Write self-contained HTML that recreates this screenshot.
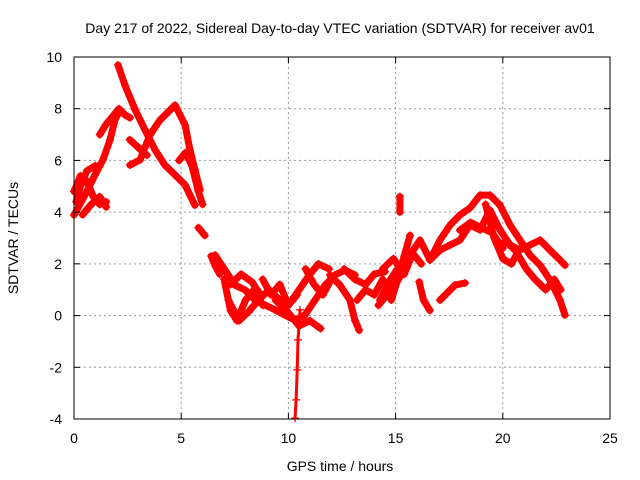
<!DOCTYPE html>
<html><head><meta charset="utf-8"><style>
body{margin:0;background:#fff}
svg{display:block;font-family:"Liberation Sans",sans-serif}
</style></head><body>
<svg id="c" width="640" height="480">
<text x="340" y="33" font-size="14" text-anchor="middle">Day 217 of 2022, Sidereal Day-to-day VTEC variation (SDTVAR) for receiver av01</text>
<text x="340" y="471" font-size="14" text-anchor="middle">GPS time / hours</text>
<text transform="translate(18,238) rotate(-90)" font-size="14" text-anchor="middle">SDTVAR / TECUs</text>
<g id="grid"></g><g id="marks"></g>
<rect x="74" y="57" width="536" height="362" fill="none" stroke="#000" stroke-width="1"/>
<g id="ticks"></g>
</svg>
<script>
const xTicks=[0,5,10,15,20,25];
const yTicks=[-4,-2,0,2,4,6,8,10];
const s1h=[0,0.51,0.98,1.35,1.68,1.91,2.15,2.38,2.61];
const s1v=[3.89,4.66,5.44,6.02,6.79,7.57,7.95,7.76,7.65];
const s2h=[2.05,2.38,2.85,3.31,3.78,4.24,4.71,5.18,5.41,5.64];
const s2v=[9.69,8.9,7.96,7.18,6.41,5.82,5.44,5.05,4.66,4.27];
const s3h=[2.61,3.08,3.54,4.01,4.71,5.18,5.41,5.64,5.88];
const s3v=[5.82,6.02,6.98,7.56,8.14,7.37,6.4,5.63,4.86];
const s4h=[0,0.3,0.6,0.9,1.2,1.5];
const s4v=[4.8,5.4,5.2,4.6,4.3,4.4];
const s5h=[0.4,0.8,1.2,1.5];
const s5v=[3.9,4.3,4.6,4.2];
const s6h=[4.9,5.2,5.5,5.8,6.0];
const s6v=[6.0,6.3,5.8,4.8,4.3];
const s7h=[2.6,3.0,3.4];
const s7v=[6.8,6.5,6.2];
const s8h=[5.8,6.1];const s8v=[3.4,3.1];
const s9h=[6.4,6.6,6.8];const s9v=[2.3,1.9,1.6];
const s10h=[0.1,0.3,0.6,1.0];const s10v=[4.4,5.0,5.6,5.8];
const s11h=[1.2,1.5,1.8,2.1];const s11v=[7.0,7.4,7.7,8.0];
const m1h=[6.58,7.04,7.51,7.98,8.44,8.91,9.38,9.84,10.31,10.77,11.24,11.71,12.17,12.64,13.1];
const m1v=[2.34,1.76,1.18,0.99,0.6,0.41,0.22,0.02,-0.18,0.02,0.6,1.18,1.57,1.76,1.57];
const m2h=[7.2,7.7,8.2,8.6,9.1,9.6,10.0,10.5,11.0,11.4,11.9];
const m2v=[0.6,-0.2,0.2,0.6,1.0,0.6,0.4,1.0,1.6,2.0,1.8];
const m3h=[10.54,10.45,10.41,10.36,10.31];
const m3v=[0.22,-0.94,-2.1,-3.26,-3.97];
const m4h=[9.4,9.9,10.5,11.0,11.5];
const m4v=[0.6,0.2,-0.4,-0.2,-0.5];
const m5h=[11.94,12.4,12.87,13.1,13.3];
const m5v=[1.57,1.18,0.6,-0.18,-0.57];
const m6h=[7.3,7.8,8.3,8.7];const m6v=[1.2,1.6,1.3,0.8];
const m7h=[12.6,13.1,13.6,14.0,14.5];const m7v=[1.8,1.4,1.2,1.6,1.7];
const m8h=[7.0,7.3,7.6,8.0,8.4,8.8];const m8v=[1.4,0.2,-0.2,0.6,1.0,0.4];
const m9h=[8.8,9.2,9.6,10.0,10.4];const m9v=[1.4,0.8,1.2,0.4,0.8];
const m10h=[10.8,11.2,11.6,12.0];const m10v=[1.8,1.2,0.8,1.4];
const m11h=[13.2,13.6,14.0,14.4];const m11v=[0.6,1.0,0.8,1.4];
const m12h=[14.2,14.6,15.0,15.4,15.8,16.2];const m12v=[0.4,0.8,1.2,1.8,2.4,2.0];
const r1h=[14.27,14.74,15.21,15.67,16.14,16.6,17.07,17.54,18.0,18.47,18.94,19.4,19.87,20.34,20.8,21.27,21.74,22.2,22.67,22.9];
const r1v=[0.6,1.37,1.95,2.34,2.92,2.15,2.92,3.5,3.89,4.16,4.66,4.66,4.27,3.5,2.92,2.34,1.95,1.37,0.6,0.02];
const r2h=[16.6,17.07,17.54,18.0,18.47,18.94,19.4,19.87,20.34,20.8,21.27,21.74,22.2,22.67,22.9];
const r2v=[2.15,2.53,2.73,2.92,3.5,3.31,4.08,3.31,2.73,2.53,2.73,2.92,2.53,2.15,1.95];
const r3h=[20.1,20.6,21.1,21.5,22.0,22.4,22.7];
const r3v=[2.9,2.5,1.8,1.4,1.0,1.4,1.0];
const r4h=[17.07,17.77,18.24];const r4v=[0.6,1.18,1.26];
const r5h=[16.1,16.3,16.6];const r5v=[1.3,0.6,0.2];
const r6h=[14.8,15.1,15.4,15.67];const r6v=[0.6,1.4,2.3,3.1];
const r7h=[15.2,15.2];const r7v=[4.6,4.0];
const r8h=[14.4,14.9,15.4,15.8];const r8v=[1.8,2.2,1.6,2.4];
const r9h=[18.0,18.5,19.0,19.5,20.0];const r9v=[3.3,3.6,3.4,3.2,2.6];
const r10h=[19.2,19.6,20.0,20.4,20.8];const r10v=[4.3,3.0,2.2,2.0,2.6];
const series=[[s1h,s1v],[s2h,s2v],[s3h,s3v],[s4h,s4v],[s5h,s5v],[s6h,s6v],[s7h,s7v],[s8h,s8v],[s9h,s9v],[s10h,s10v],[s11h,s11v],[m1h,m1v],[m2h,m2v],[m3h,m3v],[m4h,m4v],[m5h,m5v],[m6h,m6v],[m7h,m7v],[m8h,m8v],[m9h,m9v],[m10h,m10v],[m11h,m11v],[m12h,m12v],[r1h,r1v],[r2h,r2v],[r3h,r3v],[r4h,r4v],[r5h,r5v],[r6h,r6v],[r7h,r7v],[r8h,r8v],[r9h,r9v],[r10h,r10v]];
const X=h=>74+h*536/25, Y=v=>57+(10-v)*362/14;
const NS="http://www.w3.org/2000/svg";
const grid=document.getElementById('grid'),ticks=document.getElementById('ticks'),marks=document.getElementById('marks');
function el(t,a,p){const e=document.createElementNS(NS,t);for(const k in a)e.setAttribute(k,a[k]);p.appendChild(e);return e;}
xTicks.forEach(t=>{
 const x=X(t);
 if(t>0&&t<25){const g=el('line',{x1:x,x2:x,y1:57,y2:419,stroke:'#999','stroke-dasharray':'2,3'},grid);
 
 }
 el('line',{x1:x,x2:x,y1:419,y2:413,stroke:'#000'},ticks);
 el('line',{x1:x,x2:x,y1:57,y2:63,stroke:'#000'},ticks);
 const l=el('text',{x:x,y:443,'font-size':14,'text-anchor':'middle'},ticks);l.textContent=t;
 
 
});
yTicks.forEach(t=>{
 const y=Y(t);
 if(t>-4&&t<10){const g=el('line',{x1:74,x2:610,y1:y,y2:y,stroke:'#999','stroke-dasharray':'2,3'},grid);
 
 }
 el('line',{x1:74,x2:80,y1:y,y2:y,stroke:'#000'},ticks);
 el('line',{x1:610,x2:604,y1:y,y2:y,stroke:'#000'},ticks);
 const l=el('text',{x:62,y:y+5,'font-size':14,'text-anchor':'end'},ticks);l.textContent=t;
 
 
});
series.forEach((s,i)=>{
 const [hs,vs]=s;
 const pts=hs.map((h,j)=>X(h).toFixed(1)+','+Y(vs[j]).toFixed(1)).join(' ');
 const w=(hs===m3h)?3:7;
 const p=el('polyline',{points:pts,fill:'none',stroke:'#f00','stroke-width':w,'stroke-linejoin':'round','stroke-linecap':'round'},marks);
 
 
 hs.forEach((h,j)=>{
  const x=X(h),y=Y(vs[j]);
  const m=el('path',{d:`M${x-4},${y}h8M${x},${y-4}v8`,stroke:'#f00','stroke-width':1.2},marks);
  
  
 });
});
</script>
</body></html>
